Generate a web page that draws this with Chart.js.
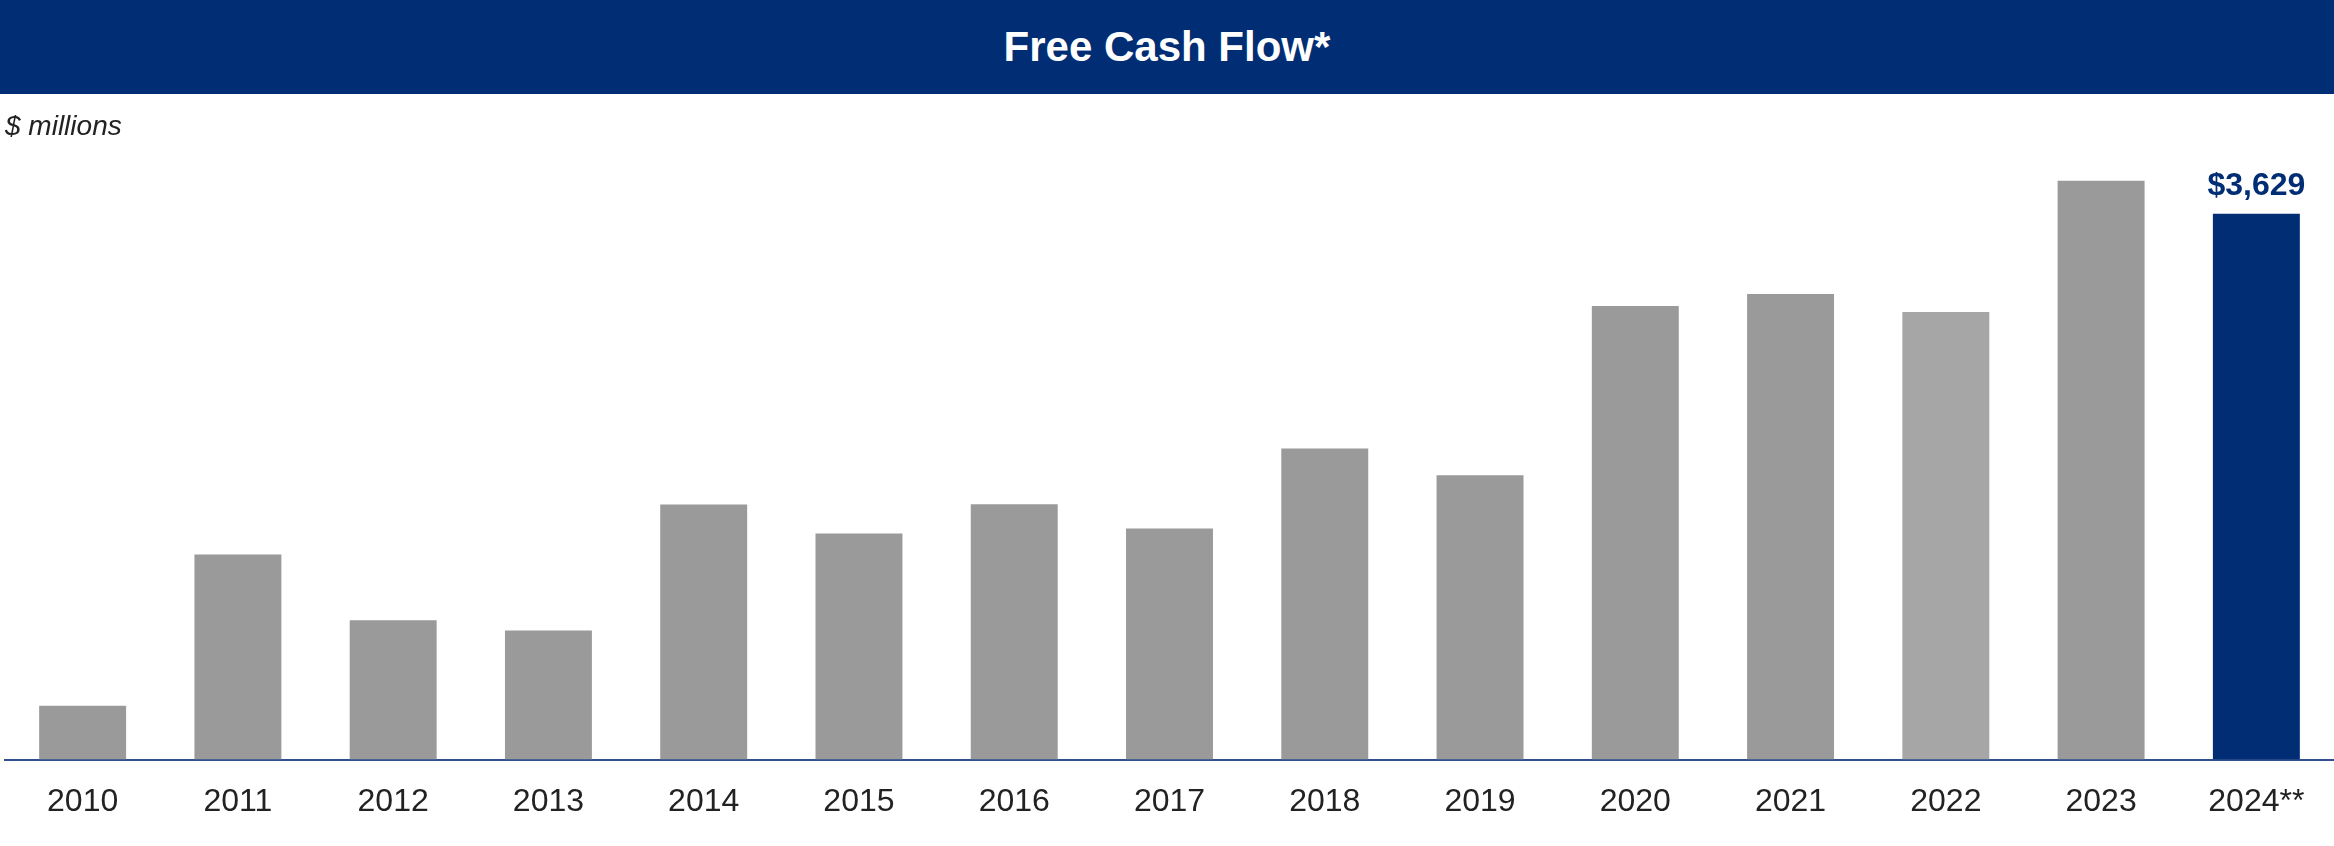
<!DOCTYPE html>
<html>
<head>
<meta charset="utf-8">
<script src="https://cdn.jsdelivr.net/npm/chart.js@4.4.1/dist/chart.umd.min.js"></script>
<style>
  html, body { margin: 0; padding: 0; background: #fff; }
  body { width: 2334px; height: 846px; position: relative; overflow: hidden; font-family: "Liberation Sans", Arial, sans-serif; }
  .banner {
    position: absolute; left: 0; top: 0; width: 2334px; height: 94px;
    background: #002d74; color: #fff; font-weight: bold; font-size: 42px;
    display: flex; align-items: center; justify-content: center;
  }
  .units { position: absolute; left: 5px; top: 110px; font-size: 28px; font-style: italic; color: #222; }
  #myChart { position: absolute; left: 0; top: 0; width: 2334px; height: 846px; }
</style>
</head>
<body>
<canvas id="myChart" width="2334" height="846"></canvas>
<div class="banner">Free Cash Flow*</div>
<div class="units">$ millions</div>
<script>
const years = ['2010', '2011', '2012', '2013', '2014', '2015', '2016', '2017', '2018', '2019', '2020', '2021', '2022', '2023', '2024**'];
const freeCashFlow = [358, 1363, 926, 859, 1696, 1503, 1698, 1536, 2069, 1891, 3016, 3096, 2976, 3849, 3629];
const barColors = ['#9a9a9a', '#9a9a9a', '#9a9a9a', '#9a9a9a', '#9a9a9a', '#9a9a9a', '#9a9a9a', '#9a9a9a', '#9a9a9a', '#9a9a9a', '#9a9a9a', '#9a9a9a', '#a6a6a6', '#9a9a9a', '#002d74'];
const labelledIndex = 14;

// label over the last bar only
const valueLabel = {
  id: 'valueLabel',
  afterDatasetsDraw(chart) {
    const ctx = chart.ctx;
    const bar = chart.getDatasetMeta(0).data[labelledIndex];
    const v = freeCashFlow[labelledIndex];
    ctx.save();
    ctx.font = 'bold 32px "Liberation Sans", Arial, sans-serif';
    ctx.fillStyle = '#002d74';
    ctx.textAlign = 'center';
    ctx.textBaseline = 'alphabetic';
    ctx.fillText('$' + v.toLocaleString('en-US'), bar.x, bar.y - 19);
    ctx.restore();
  }
};

const chart = new Chart(document.getElementById('myChart'), {
  type: 'bar',
  data: {
    labels: years,
    datasets: [{
      label: 'Free Cash Flow',
      data: freeCashFlow,
      backgroundColor: barColors,
      barPercentage: 0.56,
      categoryPercentage: 1.0,
    }],
  },
  options: {
    responsive: false,
    animation: false,
    devicePixelRatio: 1,
    layout: { padding: { top: 158, left: 5, right: 0, bottom: 10 } },
    plugins: { legend: { display: false }, tooltip: { enabled: false } },
    scales: {
      x: {
        grid: { display: false },
        border: { display: true, color: '#2f4f8f', width: 2 },
        ticks: {
          color: '#222',
          padding: 15,
          font: { family: '"Liberation Sans", Arial, sans-serif', size: 32 },
          maxRotation: 0,
        },
      },
      y: {
        display: false,
        min: 0,
        max: 4000,
      },
    },
  },
  plugins: [valueLabel],
});
</script>
</body>
</html>
